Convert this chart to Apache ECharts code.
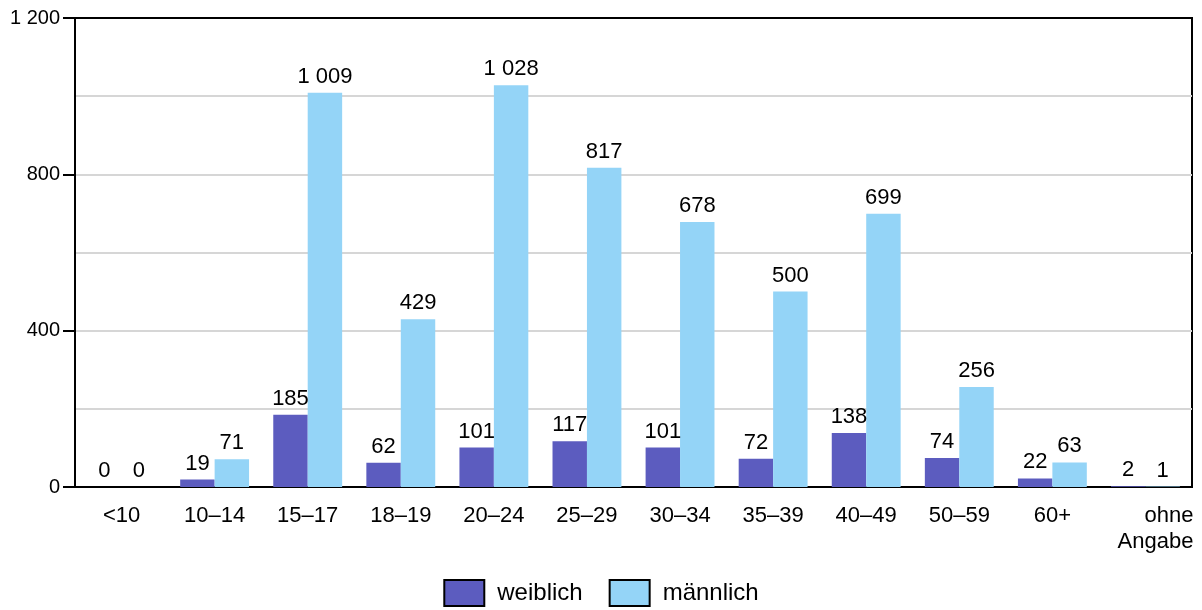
<!DOCTYPE html>
<html>
<head>
<meta charset="utf-8">
<script src="https://cdn.jsdelivr.net/npm/echarts@6/dist/echarts.min.js"></script>
<style>
html,body{margin:0;padding:0;background:#fff;}
#chart{width:1202px;height:610px;}
</style>
</head>
<body>
<div id="chart"></div>
<script>
const categories = ['<10', '10\u201314', '15\u201317', '18\u201319', '20\u201324', '25\u201329', '30\u201334', '35\u201339', '40\u201349', '50\u201359', '60+', 'ohne Angabe'];
const weiblich = [0, 19, 185, 62, 101, 117, 101, 72, 138, 74, 22, 2];
const maennlich = [0, 71, 1009, 429, 1028, 817, 678, 500, 699, 256, 63, 1];
const seriesNames = ['weiblich', 'männlich'];
const yTicks = [0, 400, 800, 1200];

const FONT = 'Arial, "Liberation Sans", sans-serif';
function fmt(n) {
  return String(n).replace(/\B(?=(\d{3})+(?!\d))/g, ' ');
}

const chart = echarts.init(document.getElementById('chart'), null, {renderer: 'canvas'});
const labelCfg = {
  show: true, position: 'top', distance: 5, color: '#000',
  fontFamily: FONT, fontSize: 22,
  formatter: p => fmt(p.value)
};
chart.setOption({
  animation: false,
  backgroundColor: '#fff',
  textStyle: {fontFamily: FONT},
  grid: {left: 75, right: 10, top: 18, bottom: 123, show: true, borderColor: '#000', borderWidth: 2, backgroundColor: 'transparent'},
  legend: {
    bottom: 3, left: 'center', padding: 0,
    data: seriesNames,
    itemWidth: 40, itemHeight: 26, itemGap: 26,
    icon: 'rect',
    itemStyle: {borderColor: '#000', borderWidth: 2},
    textStyle: {fontFamily: FONT, fontSize: 24, color: '#000', padding: [0, 0, 0, 8]}
  },
  xAxis: [{
    type: 'category',
    data: categories,
    axisLine: {lineStyle: {color: '#000', width: 2}},
    axisTick: {show: false},
    axisLabel: {
      color: '#000', fontFamily: FONT, fontSize: 22, margin: 16, interval: 0, lineHeight: 26,
      formatter: v => v === 'ohne Angabe' ? '{r|ohne}\n{r|Angabe}' : v,
      rich: {r: {width: 96, align: 'right', fontFamily: FONT, fontSize: 22, lineHeight: 26, color: '#000'}}
    }
  }, {
    type: 'category',
    position: 'top',
    data: categories,
    axisLine: {show: true, lineStyle: {color: '#000', width: 2}},
    axisTick: {show: false},
    axisLabel: {show: false},
    splitLine: {show: false}
  }],
  yAxis: {
    type: 'value',
    min: yTicks[0], max: yTicks[yTicks.length - 1], interval: 400,
    axisLine: {show: true, lineStyle: {color: '#000', width: 2}},
    axisTick: {show: true, length: 12, lineStyle: {color: '#000', width: 2}},
    axisLabel: {color: '#000', fontFamily: FONT, fontSize: 20, margin: 15, formatter: v => fmt(v)},
    splitLine: {show: true, lineStyle: {color: '#d6d6d6', width: 2}},
    minorTick: {show: false, splitNumber: 2},
    minorSplitLine: {show: true, lineStyle: {color: '#d6d6d6', width: 2}}
  },
  series: [
    {name: seriesNames[0], type: 'bar', data: weiblich, barWidth: '37%', barGap: '0%',
     itemStyle: {color: '#5c5cbf'}, label: labelCfg},
    {name: seriesNames[1], type: 'bar', data: maennlich, barWidth: '37%', barGap: '0%',
     itemStyle: {color: '#94d4f7'}, label: labelCfg}
  ]
});
</script>
</body>
</html>
